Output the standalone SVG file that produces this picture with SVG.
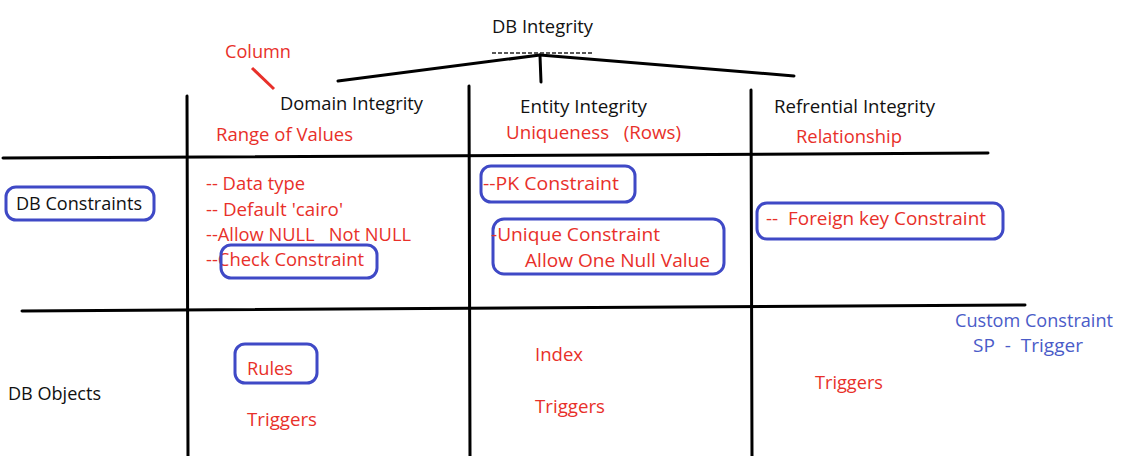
<svg xmlns="http://www.w3.org/2000/svg" width="1122" height="456" viewBox="0 0 1122 456">
<style>
text{font-family:"Open Sans","Noto Sans","Liberation Sans",sans-serif;font-size:18px}
.k{fill:#111}
.r{fill:#e8302a}
.b{fill:#4a5bc8}
.ln{stroke:#000;stroke-width:3;fill:none;stroke-linecap:round}
.bx{stroke:#3f49c6;stroke-width:3;fill:none}
</style>
<rect width="1122" height="456" fill="#fff"/>
<g id="connectors">
<line class="ln" x1="540" y1="55" x2="338" y2="81"/>
<line class="ln" x1="540" y1="56" x2="541" y2="82"/>
<line class="ln" x1="540" y1="55" x2="794" y2="76"/>
<line x1="252" y1="68" x2="274" y2="89" stroke="#e8302a" stroke-width="3"/>
<line x1="492" y1="53" x2="594" y2="53" stroke="#222" stroke-width="1.3" stroke-dasharray="4,2"/>
<line class="ln" x1="187" y1="96" x2="188" y2="456"/>
<line class="ln" x1="469" y1="86" x2="470" y2="456"/>
<line class="ln" x1="751" y1="90" x2="752" y2="456"/>
<line class="ln" x1="3" y1="158" x2="988" y2="153"/>
<line class="ln" x1="22" y1="311" x2="1025" y2="305"/>
</g>
<g id="title"><text class="k" x="492" y="33" textLength="101" lengthAdjust="spacingAndGlyphs">DB Integrity</text></g>
<g id="column"><text class="r" x="225" y="58" textLength="66" lengthAdjust="spacingAndGlyphs">Column</text></g>
<g id="domain">
<text class="k" x="280" y="110" textLength="143" lengthAdjust="spacingAndGlyphs">Domain Integrity</text>
<text class="r" x="216" y="141" textLength="137" lengthAdjust="spacingAndGlyphs">Range of Values</text>
</g>
<g id="entity">
<text class="k" x="520" y="113" textLength="127" lengthAdjust="spacingAndGlyphs">Entity Integrity</text>
<text class="r" x="506" y="139" textLength="175" lengthAdjust="spacingAndGlyphs" xml:space="preserve">Uniqueness   (Rows)</text>
</g>
<g id="referential">
<text class="k" x="774" y="113" textLength="161" lengthAdjust="spacingAndGlyphs">Refrential Integrity</text>
<text class="r" x="796" y="143" textLength="106" lengthAdjust="spacingAndGlyphs">Relationship</text>
</g>
<g id="db-constraints">
<rect class="bx" x="6" y="187" width="148" height="33" rx="10"/>
<text class="k" x="16" y="210" textLength="126" lengthAdjust="spacingAndGlyphs">DB Constraints</text>
</g>
<g id="domain-constraints">
<text class="r" x="206" y="190" textLength="99" lengthAdjust="spacingAndGlyphs">-- Data type</text>
<text class="r" x="206" y="216" textLength="137" lengthAdjust="spacingAndGlyphs">-- Default 'cairo'</text>
<text class="r" x="206" y="241" textLength="205" lengthAdjust="spacingAndGlyphs" xml:space="preserve">--Allow NULL   Not NULL</text>
<text class="r" x="206" y="266" textLength="158" lengthAdjust="spacingAndGlyphs">--Check Constraint</text>
<rect class="bx" x="221" y="245" width="156" height="33" rx="10"/>
</g>
<g id="pk">
<rect class="bx" x="481" y="166" width="154" height="36" rx="10"/>
<text class="r" x="483" y="190" textLength="136" lengthAdjust="spacingAndGlyphs">--PK Constraint</text>
</g>
<g id="unique">
<rect class="bx" x="493" y="219" width="231" height="55" rx="11"/>
<text class="r" x="491" y="241" textLength="169" lengthAdjust="spacingAndGlyphs">-Unique Constraint</text>
<text class="r" x="525" y="267" textLength="185" lengthAdjust="spacingAndGlyphs">Allow One Null Value</text>
</g>
<g id="fk">
<rect class="bx" x="757" y="203" width="246" height="36" rx="10"/>
<text class="r" x="766" y="225" textLength="220" lengthAdjust="spacingAndGlyphs" xml:space="preserve">--  Foreign key Constraint</text>
</g>
<g id="custom">
<text class="b" x="955" y="327" textLength="158" lengthAdjust="spacingAndGlyphs">Custom Constraint</text>
<text class="b" x="973" y="352" textLength="110" lengthAdjust="spacingAndGlyphs" xml:space="preserve">SP  -  Trigger</text>
</g>
<g id="db-objects"><text class="k" x="8" y="400" textLength="93" lengthAdjust="spacingAndGlyphs">DB Objects</text></g>
<g id="rules">
<rect class="bx" x="235" y="344" width="82" height="39" rx="10"/>
<text class="r" x="247" y="375" textLength="46" lengthAdjust="spacingAndGlyphs">Rules</text>
</g>
<g id="domain-triggers"><text class="r" x="247" y="426" textLength="70" lengthAdjust="spacingAndGlyphs">Triggers</text></g>
<g id="index"><text class="r" x="535" y="361" textLength="48" lengthAdjust="spacingAndGlyphs">Index</text></g>
<g id="entity-triggers"><text class="r" x="535" y="413" textLength="70" lengthAdjust="spacingAndGlyphs">Triggers</text></g>
<g id="ref-triggers"><text class="r" x="815" y="389" textLength="68" lengthAdjust="spacingAndGlyphs">Triggers</text></g>
</svg>
